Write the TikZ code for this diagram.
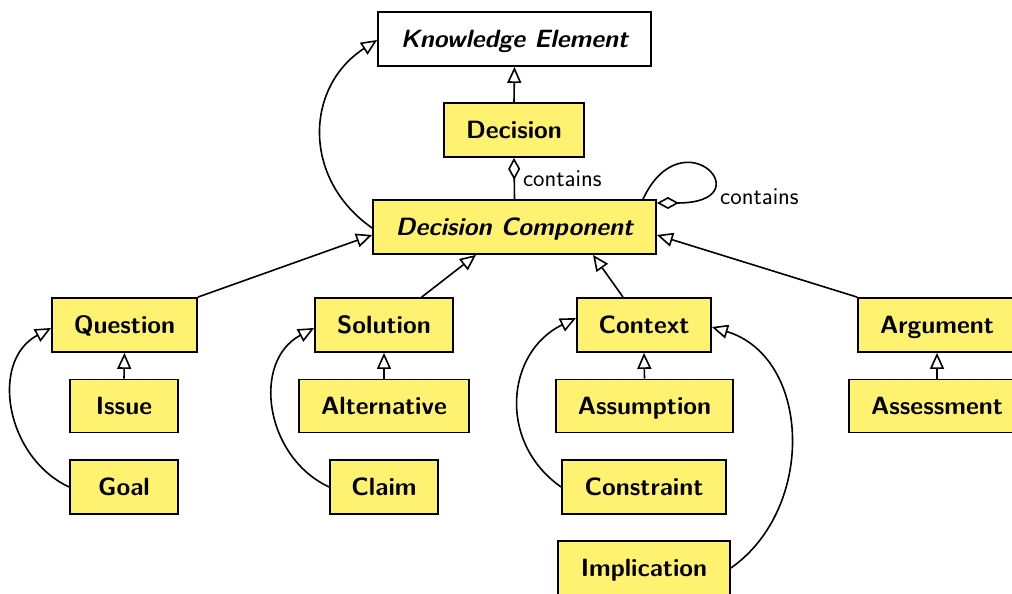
\documentclass[tikz,border=0pt]{standalone}
\usetikzlibrary{arrows.meta}
\definecolor{boxfill}{RGB}{255,242,112}
\begin{document}
\begin{tikzpicture}[x=1pt,y=1pt,
  every node/.style={font=\fontsize{25}{30}\selectfont\sffamily\bfseries},
  cls/.style={draw=black, line width=1.8pt, fill=boxfill, inner sep=0pt,
              minimum height=54pt, text height=20pt, text depth=3.4pt},
  abstractcls/.style={cls, font=\fontsize{25}{30}\selectfont\sffamily\bfseries\slshape},
  lbl/.style={font=\fontsize{24.3}{28}\selectfont\sffamily, anchor=west, inner sep=0pt},
  link/.style={line width=1.6pt},
  isa/.style={link, -{Triangle[open,length=16pt,width=14pt,line width=1.6pt]}},
  partof/.style={link, -{Diamond[open,length=22pt,width=12pt,line width=1.6pt]}}
]
\useasboundingbox (0,0) rectangle (1012,594);
\clip (0,0) rectangle (1012,594);

% classes
\node[abstractcls, fill=white, minimum width=273pt] (ke) at (514.5,555) {Knowledge Element};
\node[cls, minimum width=140pt] (dec) at (514,464) {Decision};
\node[abstractcls, minimum width=283pt] (dc) at (514.5,367) {Decision Component};

\node[cls, minimum width=145pt] (que) at (124.5,269) {Question};
\node[cls, minimum width=108pt, minimum height=53pt] (iss) at (124,188) {Issue};
\node[cls, minimum width=108pt] (goal) at (124,107) {Goal};

\node[cls, minimum width=138pt] (sol) at (384,269) {Solution};
\node[cls, minimum width=170pt, minimum height=53pt] (alt) at (384,188) {Alternative};
\node[cls, minimum width=108pt] (claim) at (384,107) {Claim};

\node[cls, minimum width=134pt] (ctx) at (644,269) {Context};
\node[cls, minimum width=177pt, minimum height=53pt] (ass) at (644.5,188) {Assumption};
\node[cls, minimum width=164pt] (con) at (644,107) {Constraint};
\node[cls, minimum width=172pt] (imp) at (644,26) {Implication};

\node[cls, minimum width=158pt] (arg) at (937,269) {Argument};
\node[cls, minimum width=176pt, minimum height=53pt] (asm) at (937,188) {Assessment};

% generalisations
\draw[isa] (dec.north) -- (ke.south);
\draw[isa] ([yshift=-1pt]dc.west) to[out=145,in=213,distance=86pt] ([yshift=-1pt]ke.west);
\draw[isa] (que.north east) -- ([yshift=-8pt]dc.west);
\draw[isa] ([xshift=37.7pt]sol.north) -- ([xshift=-38.5pt]dc.south);
\draw[isa] ([xshift=-21pt]ctx.north) -- ([xshift=78.5pt]dc.south);
\draw[isa] (arg.north west) -- ([yshift=-8pt]dc.east);

\draw[isa] (iss.north) -- (que.south);
\draw[isa] (goal.west) to[out=155,in=208,distance=70pt] ([yshift=-3pt]que.west);
\draw[isa] (alt.north) -- (sol.south);
\draw[isa] (claim.west) to[out=155,in=208,distance=71pt] ([yshift=-3pt]sol.west);
\draw[isa] (ass.north) -- (ctx.south);
\draw[isa] (con.west) to[out=145,in=206,distance=78pt] ([yshift=7pt]ctx.west);
\draw[isa] (imp.east) to[out=35,in=343,distance=104pt] ([yshift=-2pt]ctx.east);
\draw[isa] (asm.north) -- (arg.south);

% aggregations
\draw[partof] (dc.north) -- node[lbl, right=8pt] {contains} (dec.south);
\coordinate (loopstart) at ([xshift=128.5pt]dc.north);
\coordinate (loopend) at ([yshift=24pt]dc.east);
\draw[partof] (loopstart) .. controls ++(40,85) and ([xshift=108pt]loopend) .. (loopend);
\node[lbl] (lbl2) at (720,397) {contains};
\end{tikzpicture}
\end{document}
